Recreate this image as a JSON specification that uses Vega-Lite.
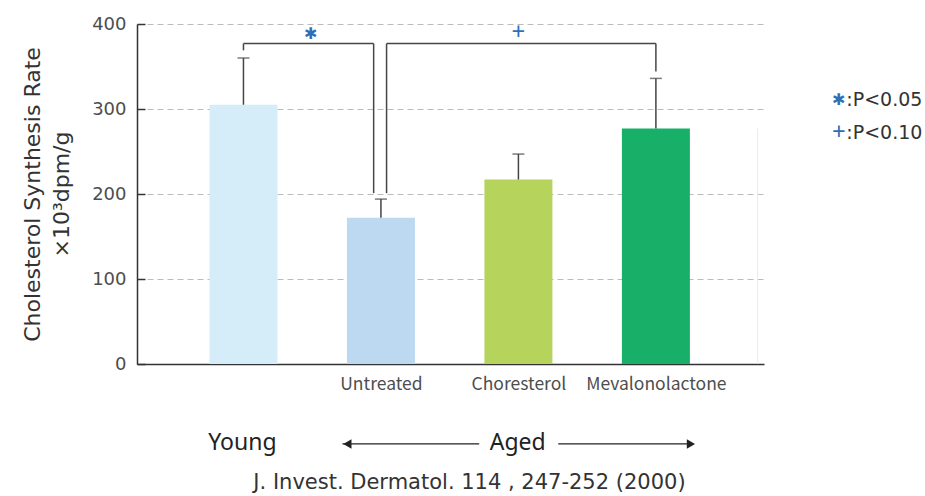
{
  "$schema": "https://vega.github.io/schema/vega-lite/v6.json",
  "width": 627,
  "height": 340,
  "autosize": {"type": "none"},
  "padding": {"left": 137, "top": 24, "right": 161, "bottom": 132},
  "background": "white",
  "config": {"view": {"stroke": null}, "font": "DejaVu Sans"},
  "datasets": {
    "bars": [
      {"group": "Young", "pos": 1, "mean": 305, "upper": 360},
      {"group": "Untreated", "pos": 2, "mean": 172, "upper": 194},
      {"group": "Choresterol", "pos": 3, "mean": 217, "upper": 247},
      {"group": "Mevalonolactone", "pos": 4, "mean": 277, "upper": 336}
    ],
    "brackets": [
      {"x": 1, "x2": 1, "y": 377, "y2": 369},
      {"x": 1, "x2": 1.947, "y": 377, "y2": 377},
      {"x": 1.947, "x2": 1.947, "y": 377, "y2": 201},
      {"x": 2.041, "x2": 2.041, "y": 377, "y2": 201},
      {"x": 2.041, "x2": 4.0, "y": 377, "y2": 377},
      {"x": 4.0, "x2": 4.0, "y": 377, "y2": 344}
    ],
    "stars": [
      {"sym": "✱", "x": 1.49, "y": 388},
      {"sym": "✱", "x": 5.33, "y": 310.6}
    ],
    "pluses": [
      {"sym": "+", "x": 3.0, "y": 389},
      {"sym": "+", "x": 5.33, "y": 271.8}
    ],
    "legendText": [
      {"text": ":P<0.05", "x": 5.385, "y": 310.6},
      {"text": ":P<0.10", "x": 5.385, "y": 271.8}
    ],
    "groupText": [
      {"text": "Young", "x": 0.992, "y": -93},
      {"text": "Aged", "x": 2.995, "y": -93}
    ],
    "arrows": [
      {"x": 1.72, "x2": 2.715, "y": -94},
      {"x": 3.29, "x2": 4.27, "y": -94}
    ],
    "heads": [
      {"x": 1.756, "y": -94, "dir": "left"},
      {"x": 4.255, "y": -94, "dir": "right"}
    ],
    "citation": [
      {"text": "J. Invest. Dermatol. 114 , 247-252 (2000)", "x": 2.644, "y": -140}
    ],
    "edge": [
      {"x": 4.74, "y": 0, "y2": 277}
    ]
  },
  "layer": [
    {
      "data": {"name": "bars"},
      "mark": {"type": "bar", "orient": "vertical", "size": 68},
      "encoding": {
        "x": {
          "field": "pos", "type": "quantitative",
          "scale": {"domain": [0.262, 4.75], "nice": false, "zero": false},
          "axis": {
            "values": [2, 3, 4],
            "labelExpr": "datum.value == 2 ? 'Untreated' : datum.value == 3 ? 'Choresterol' : 'Mevalonolactone'",
            "ticks": false, "grid": false, "title": null,
            "domainColor": "#333333", "domainWidth": 1.5,
            "labelFontSize": 17.5, "labelColor": "#4d4d4d", "labelPadding": 11,
            "labelFont": "Noto Sans CJK JP"
          }
        },
        "y": {
          "field": "mean", "type": "quantitative",
          "scale": {"domain": [0, 400], "nice": false},
          "axis": {
            "values": [0, 100, 200, 300, 400],
            "title": ["Cholesterol Synthesis Rate", "×10³dpm/g"],
            "titleFontSize": 22, "titleFontWeight": "normal", "titleColor": "#333333",
            "titleLineHeight": 29, "titlePadding": 18, "titleFont": "DejaVu Sans",
            "labelFontSize": 18, "labelColor": "#4d4d4d", "labelPadding": 19,
            "labelFont": "DejaVu Sans",
            "ticks": true, "tickSize": -8, "tickColor": "#333333", "tickWidth": 1.5,
            "domainColor": "#333333", "domainWidth": 1.5,
            "grid": true, "gridDash": [6, 4], "gridColor": "#bbbbbb", "gridWidth": 1
          }
        },
        "color": {
          "field": "group", "type": "nominal",
          "scale": {
            "domain": ["Young", "Untreated", "Choresterol", "Mevalonolactone"],
            "range": ["#d5ecf9", "#bdd9f2", "#b6d35c", "#18af69"]
          },
          "legend": null
        }
      }
    },
    {
      "data": {"name": "edge"},
      "mark": {"type": "rule", "color": "#dcf2e8", "strokeWidth": 1},
      "encoding": {
        "x": {"field": "x", "type": "quantitative"},
        "y": {"field": "y", "type": "quantitative"},
        "y2": {"field": "y2"}
      }
    },
    {
      "data": {"name": "bars"},
      "mark": {"type": "rule", "color": "#444444", "strokeWidth": 1.5},
      "encoding": {
        "x": {"field": "pos", "type": "quantitative"},
        "y": {"field": "mean", "type": "quantitative"},
        "y2": {"field": "upper"}
      }
    },
    {
      "data": {"name": "bars"},
      "mark": {"type": "tick", "orient": "horizontal", "size": 12, "thickness": 1.5, "color": "#444444"},
      "encoding": {
        "x": {"field": "pos", "type": "quantitative"},
        "y": {"field": "upper", "type": "quantitative"}
      }
    },
    {
      "data": {"name": "brackets"},
      "mark": {"type": "rule", "color": "#4a4545", "strokeWidth": 1.5},
      "encoding": {
        "x": {"field": "x", "type": "quantitative"},
        "x2": {"field": "x2"},
        "y": {"field": "y", "type": "quantitative"},
        "y2": {"field": "y2"}
      }
    },
    {
      "data": {"name": "stars"},
      "mark": {"type": "text", "color": "#2f6fb8", "fontSize": 16, "font": "DejaVu Sans", "baseline": "middle", "align": "center"},
      "encoding": {
        "x": {"field": "x", "type": "quantitative"},
        "y": {"field": "y", "type": "quantitative"},
        "text": {"field": "sym"}
      }
    },
    {
      "data": {"name": "pluses"},
      "mark": {"type": "text", "color": "#2f6fb8", "fontSize": 24, "font": "Noto Sans", "baseline": "middle", "align": "center"},
      "encoding": {
        "x": {"field": "x", "type": "quantitative"},
        "y": {"field": "y", "type": "quantitative"},
        "text": {"field": "sym"}
      }
    },
    {
      "data": {"name": "legendText"},
      "mark": {"type": "text", "color": "#333333", "fontSize": 19, "font": "DejaVu Sans", "baseline": "middle", "align": "left"},
      "encoding": {
        "x": {"field": "x", "type": "quantitative"},
        "y": {"field": "y", "type": "quantitative"},
        "text": {"field": "text"}
      }
    },
    {
      "data": {"name": "groupText"},
      "mark": {"type": "text", "color": "#222222", "fontSize": 23, "font": "Noto Sans", "baseline": "middle", "align": "center"},
      "encoding": {
        "x": {"field": "x", "type": "quantitative"},
        "y": {"field": "y", "type": "quantitative"},
        "text": {"field": "text"}
      }
    },
    {
      "data": {"name": "arrows"},
      "mark": {"type": "rule", "color": "#222222", "strokeWidth": 1.3},
      "encoding": {
        "x": {"field": "x", "type": "quantitative"},
        "x2": {"field": "x2"},
        "y": {"field": "y", "type": "quantitative"}
      }
    },
    {
      "data": {"name": "heads"},
      "mark": {"type": "point", "filled": true, "color": "#222222", "size": 90, "opacity": 1},
      "encoding": {
        "x": {"field": "x", "type": "quantitative"},
        "y": {"field": "y", "type": "quantitative"},
        "shape": {
          "field": "dir", "type": "nominal",
          "scale": {"domain": ["left", "right"], "range": ["triangle-left", "triangle-right"]},
          "legend": null
        }
      }
    },
    {
      "data": {"name": "citation"},
      "mark": {"type": "text", "color": "#333333", "fontSize": 21, "font": "DejaVu Sans", "baseline": "middle", "align": "center"},
      "encoding": {
        "x": {"field": "x", "type": "quantitative"},
        "y": {"field": "y", "type": "quantitative"},
        "text": {"field": "text"}
      }
    }
  ]
}
